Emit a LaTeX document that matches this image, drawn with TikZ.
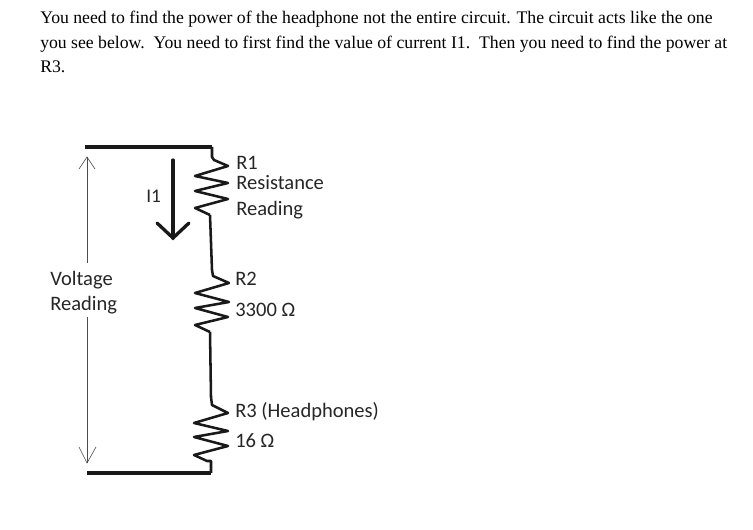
\documentclass[tikz,border=0pt]{standalone}
\usepackage{fontspec}
\setmainfont{Liberation Serif}
\newfontfamily\lblfont{Carlito}
\tikzset{
  x=0.75pt,y=-0.75pt,
  wire/.style={line width=1.9pt,black!90,line join=round},
  heavy/.style={line width=2.8pt,black!90},
  iarrow/.style={line width=2.5pt,black!90,line cap=round,line join=miter},
  thin arrow/.style={line width=0.45pt,black!70},
  para/.style={anchor=base west,inner sep=0pt,font=\fontsize{13.27pt}{15pt}\selectfont,text=black},
  lbl/.style={anchor=base west,inner sep=0pt,font=\lblfont\fontsize{15.4pt}{18pt}\selectfont,text=black!85},
}
\begin{document}
\begin{tikzpicture}
\useasboundingbox[fill=white] (0,0) rectangle (753,530);
\node[para] (p1) at (40,24) {You need to find the power of the headphone not the entire circuit. The circuit acts like the one};
\node[para] (p2) at (40,49) {you see below.\ \ You need to first find the value of current I1.\ \ Then you need to find the power at};
\node[para] (p3) at (40,73) {R3.};
\coordinate (tl) at (85,147);
\coordinate (tr) at (212,147);
\coordinate (bl) at (87,473);
\coordinate (br) at (211,473);
\coordinate (r1t) at (212,157);
\coordinate (r1b) at (210,215);
\coordinate (r2t) at (212,270);
\coordinate (r2b) at (210,332);
\coordinate (r3t) at (211,397);
\coordinate (r3b) at (207,461);
\draw[heavy] (tl) -- (tr);
\draw[heavy] (bl) -- (br);
\draw[wire] (tr) -- (r1t) -- (214,160) -- (228,166) -- (195,176) -- (228,183) -- (195,191) -- (228,199) -- (195,208) -- (r1b);
\draw[wire] (r1b) -- (r2t);
\draw[wire] (r2t) -- (213,276) -- (229,283) -- (195,293) -- (229,302) -- (195,308) -- (228,317) -- (195,325) -- (r2b);
\draw[wire] (r2b) -- (r3t);
\draw[wire] (r3t) -- (212,405) -- (228,413) -- (194,423) -- (228,431) -- (194,437) -- (228,446) -- (194,455) -- (r3b) -- (211,461) -- (br);
\coordinate (ia) at (173,160);
\coordinate (ib) at (173,238);
\coordinate (ihl) at (157,223);
\coordinate (ihr) at (189,223);
\draw[iarrow] (ia) -- (ib);
\draw[iarrow] (ihl) -- (ib) -- (ihr);
\coordinate (ua) at (87,263);
\coordinate (ub) at (87,157);
\coordinate (uhl) at (79,169);
\coordinate (uhr) at (95,169);
\draw[thin arrow] (ua) -- (ub);
\draw[thin arrow] (uhl) -- (ub) -- (uhr);
\coordinate (da) at (87,317);
\coordinate (db) at (87,463);
\coordinate (dhl) at (79,447);
\coordinate (dhr) at (96,447);
\draw[thin arrow] (da) -- (db);
\draw[thin arrow] (dhl) -- (db) -- (dhr);
\node[lbl,font=\lblfont\fontsize{14.5pt}{16pt}\selectfont] (i1) at (146,203) {I1};
\node[lbl] (v1) at (50,286) {Voltage};
\node[lbl] (v2) at (50,311) {Reading};
\node[lbl] (a1) at (236,170) {R1};
\node[lbl] (a2) at (236,190) {Resistance};
\node[lbl] (a3) at (236,216) {Reading};
\node[lbl] (b1) at (235,286) {R2};
\node[lbl] (b2) at (235,317) {3300 Ω};
\node[lbl] (c1) at (235,418) {R3 (Headphones)};
\node[lbl] (c2) at (235,448) {16 Ω};
\end{tikzpicture}
\end{document}
